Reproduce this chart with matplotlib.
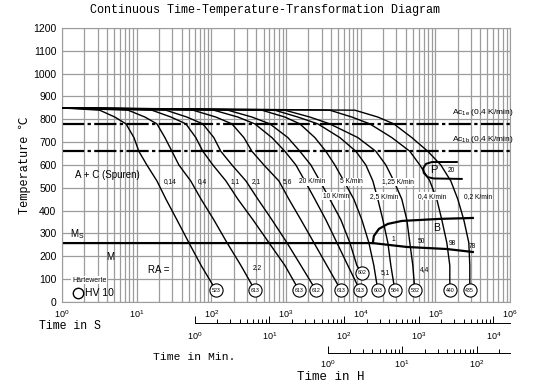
import math
import matplotlib
matplotlib.use('Agg')
import matplotlib.pyplot as plt
from matplotlib.ticker import FixedLocator, FuncFormatter, NullFormatter

plt.rcParams['font.family'] = ['Liberation Sans', 'DejaVu Sans']
plt.rcParams['mathtext.fontset'] = 'custom'
plt.rcParams['mathtext.rm'] = 'Liberation Sans'
plt.rcParams['mathtext.it'] = 'Liberation Sans:italic'
plt.rcParams['mathtext.bf'] = 'Liberation Sans:bold'

# temperature levels (°C) at which the cooling curves were read
T_LEVELS = [850, 840, 810, 780, 720, 660, 600, 530, 450, 360, 260, 160]

# time (s) of each cooling curve at the T_LEVELS above
t_014 = [1, 3.2, 5.1, 7.2, 9.2, 10.7, 13.7, 18.7, 24.7, 34.6, 50, 73]
t_04 = [1, 7.7, 12.9, 18.7, 23.9, 29.7, 36.8, 53, 73, 108, 162, 249]
t_11 = [1, 16, 28.8, 45.7, 62, 77, 105, 157, 227, 361, 590, 967]
t_21 = [1, 24.7, 47, 77, 108, 134, 189, 291, 421, 648, 1028, 1583]
t_56 = [1, 57, 115, 189, 273, 350, 506, 804, 1094, 1583, 2363, 3528]
t_20k = [1, 108, 227, 383, 648, 967, 1357, 1791, 2437, 3420, 4802, 6740]
t_10k = [1, 167, 350, 609, 1060, 1535, 2154, 2843, 3870, 5432, 7168, 8894]
t_5k = [1, 476, 967, 1535, 2437, 3420, 4514, 5959, 8110, 10380, 12880, 15020]
t_25k = [1, 710, 1443, 2673, 5267, 8624, 11740, 14570, 16990, 19830, 23130, 25370]
t_125k = [1, 967, 2089, 3870, 9173, 15970, 21750, 27830, 35600, 41540, 45560, 49970]
t_04k = [1, 3870, 7624, 13280, 26160, 45560, 62010, 84410, 104700, 122200, 142500, 156400]
t_02k = [1, 8365, 16990, 27830, 48460, 79360, 118500, 161300, 200100, 240700, 280900, 289600]
curves = [t_014, t_04, t_11, t_21, t_56, t_20k, t_10k, t_5k, t_25k, t_125k, t_04k, t_02k]

# hardness HV10 at the end of each curve
hv_values = ['523', '613', '613', '612', '613', '613', '602', '603', '584', '532', '440', '435']
hv_time = [115, 383, 1489, 2514, 5432, 9757, 10380, 16990, 28700, 53160, 156400, 289600]
hv_temp = [52, 52, 52, 52, 52, 52, 127, 52, 52, 52, 52, 52]

# cooling rate labels
rate_labels = ['0,14', '0,4', '1,1', '2,1', '5,6', '20 K/min', '10 K/min', '5 K/min',
               '2,5 K/min', '1,25 K/min', '0,4 K/min', '0,2 K/min']
rate_t = [27.9, 74.8, 207, 395, 1060, 2222, 4656, 7624, 20450, 31480, 89800, 370700]
rate_T = [526, 526, 526, 526, 526, 526, 464, 526, 464, 526, 464, 464]
on_curve = [False, False, False, False, False, True, True, True, True, True, True, False]

# transformation lines
ac1e, ac1b = 780, 660
ms_t = [1, 14560, 41500, 142600, 317700]
ms_T = [258, 258, 241, 232, 219]
bs_t = [14560, 15030, 17530, 23130, 35600, 114800, 317700]
bs_T = [258, 289, 320, 342, 355, 364, 368]
p_t = [194000, 90000, 75000, 68500, 70000, 79000, 95000, 226000]
p_T = [613, 613, 605, 585, 565, 547, 541, 539]

# phase percentages
phase_labels = ['2,2', '5,1', '4,4', '1', '50', '98', '78', '20']
phase_t = [408, 21090, 72300, 27000, 65950, 171500, 317700, 166300]
phase_T = [149, 131, 140, 272, 263, 254, 241, 578]

fig = plt.figure(figsize=(5.4, 3.83), dpi=100)
ax = fig.add_axes([0.1148, 0.2115, 0.8296, 0.7154])
ax.set_xscale('log')
ax.set_xlim(1, 1e6)
ax.set_ylim(0, 1200)
ax.set_yticks(range(0, 1201, 100))
gc = '#9c9c9c'
ax.grid(True, which='both', axis='x', color=gc, lw=0.9)
ax.grid(True, which='major', axis='y', color=gc, lw=0.9)
ax.set_axisbelow(True)
for s in ax.spines.values():
    s.set_color(gc)
ax.tick_params(which='both', length=0)
ax.tick_params(axis='y', labelsize=7.5, pad=4)
ax.tick_params(axis='x', labelsize=6.5, pad=4.5)

# horizontal lines
ax.axhline(ac1e, color='black', lw=1.6, ls=(0, (10, 1.5, 1.5, 1.5)), zorder=2)
ax.axhline(ac1b, color='black', lw=1.6, ls=(0, (10, 1.5, 1.5, 1.5)), zorder=2)
ax.plot(ms_t, ms_T, color='black', lw=1.6, zorder=2)
ax.plot(bs_t, bs_T, color='black', lw=1.6, zorder=2)
ax.plot(p_t, p_T, color='black', lw=1.4, zorder=2)

for times, ht, hT in zip(curves, hv_time, hv_temp):
    ax.plot(times + [ht], T_LEVELS + [hT], color='black', lw=1.0, zorder=3)

for lab, t, T, oc in zip(rate_labels, rate_t, rate_T, on_curve):
    kw = {}
    if oc:
        kw['bbox'] = dict(facecolor='white', edgecolor='none', pad=0.3)
    ax.text(t, T, lab, fontsize=4.8, ha='center', va='center', zorder=4, **kw)

ax.plot(hv_time, hv_temp, 'o', ms=9.5, mfc='white', mec='black', mew=0.8, zorder=5)
for v, t, T in zip(hv_values, hv_time, hv_temp):
    ax.text(t, T, v, fontsize=3.8, ha='center', va='center', zorder=6)

for lab, t, T in zip(phase_labels, phase_t, phase_T):
    ax.text(t, T, lab, fontsize=4.8, ha='center', va='center', zorder=4)

ax.text(4.0, 556, 'A + C (Spuren)', fontsize=7, ha='center', va='center')
ax.text(1.28, 298, r'M$_{\mathrm{S}}$', fontsize=7, ha='left', va='center')
ax.text(4.4, 197, 'M', fontsize=7, ha='center', va='center')
ax.text(14.2, 140, 'RA =', fontsize=7, ha='left', va='center')
ax.text(1.36, 96, 'Härtewerte', fontsize=5, ha='left', va='center',
        bbox=dict(facecolor='white', edgecolor='none', pad=0.5))
ax.plot([1.64], [39], 'o', ms=7.5, mfc='white', mec='black', mew=1.0, zorder=5)
ax.text(2.03, 39, 'HV 10', fontsize=7.5, ha='left', va='center')
ax.text(104700, 324, 'B', fontsize=7.5, ha='center', va='center')
ax.text(95500, 578, 'P', fontsize=8, ha='center', va='center')
ax.text(166300, 828, r'Ac$_{\mathrm{1e}}$ (0,4 K/min)', fontsize=6, ha='left', va='center')
ax.text(166300, 710, r'Ac$_{\mathrm{1b}}$ (0,4 K/min)', fontsize=6, ha='left', va='center')


def extra_axis(y, scale, majors, pad):
    """second time scale (minutes or hours) under the plot"""
    a = fig.add_axes([0.1148, y, 0.8296, 0.01])
    a.set_xscale('log')
    a.set_xlim(1 / scale, 1e6 / scale)
    a.set_yticks([])
    a.patch.set_alpha(0)
    for k in ['top', 'left', 'right']:
        a.spines[k].set_visible(False)
    a.spines['bottom'].set_bounds(1, 1e6 / scale)
    a.spines['bottom'].set_linewidth(0.7)
    minors = [m * 10 ** d for d in range(len(majors)) for m in range(2, 10)
              if m * 10 ** d < 1e6 / scale]
    a.xaxis.set_major_locator(FixedLocator(majors))
    a.xaxis.set_minor_locator(FixedLocator(minors))
    a.xaxis.set_major_formatter(FuncFormatter(lambda v, p: r'$10^{%d}$' % round(math.log10(v))))
    a.xaxis.set_minor_formatter(NullFormatter())
    a.tick_params(which='major', direction='in', length=5, width=0.7, labelsize=6.5, pad=pad)
    a.tick_params(which='minor', direction='in', length=3, width=0.7)
    return a


extra_axis(0.1567, 60, [1, 10, 100, 1000, 10000], 5)
extra_axis(0.0783, 3600, [1, 10, 100], 3.5)

mono = ['Liberation Mono', 'Noto Sans CJK SC']
fig.text(0.49, 0.974, 'Continuous Time-Temperature-Transformation Diagram',
         family=mono, fontsize=8.5, ha='center', va='center')
fig.text(0.046, 0.569, 'Temperature ℃', family=mono, fontsize=8.6,
         rotation=90, ha='center', va='center')
fig.text(0.072, 0.150, 'Time in S', family=mono, fontsize=8.3, ha='left', va='center')
fig.text(0.283, 0.068, 'Time in Min.', family=mono, fontsize=8.2, ha='left', va='center')
fig.text(0.55, 0.015, 'Time in H', family=mono, fontsize=9.0, ha='left', va='center')

fig.savefig('out.png', dpi=100)
